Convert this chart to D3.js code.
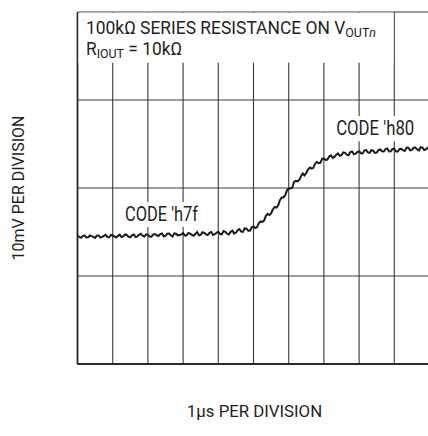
<!DOCTYPE html>
<html><head><meta charset="utf-8">
<script src="https://cdn.jsdelivr.net/npm/d3@7"></script>
<style>
html,body{margin:0;padding:0;background:#fff;}
svg text{font-family:"Roboto",sans-serif;fill:#231f20;}
</style></head>
<body>
<div id="chart"></div>
<script>
// time in µs (0.05 µs steps), voltage in mV (scope trace)
const timeUs = d3.range(0, 201).map(i => i / 20);
const traceMv = [
14.55,14.44,14.34,14.54,14.61,14.37,14.39,14.60,14.53,14.44,
14.33,14.59,14.61,14.36,14.44,14.56,14.68,14.43,14.41,14.66,
14.60,14.47,14.39,14.56,14.70,14.43,14.50,14.72,14.66,14.47,
14.39,14.62,14.72,14.43,14.50,14.68,14.80,14.57,14.49,14.74,
14.68,14.49,14.47,14.70,14.76,14.63,14.55,14.76,14.84,14.49,
14.59,14.80,14.83,14.63,14.49,14.84,14.80,14.61,14.65,14.74,
14.88,14.61,14.61,14.90,14.82,14.67,14.57,14.80,14.98,14.63,
14.68,14.97,14.91,14.74,14.65,14.91,15.00,14.67,14.75,14.92,
15.05,14.77,14.72,15.10,15.01,14.81,14.72,15.02,15.16,14.83,
14.91,15.20,15.33,15.04,15.01,15.41,15.38,15.15,15.15,15.53,
15.62,15.45,15.54,15.98,16.20,16.14,16.30,16.83,17.07,16.94,
17.11,17.57,17.84,17.77,18.00,18.62,18.93,18.93,19.18,19.71,
19.96,19.95,20.03,20.66,20.82,20.76,20.92,21.34,21.65,21.43,
21.70,22.10,22.33,22.20,22.29,22.76,22.97,22.82,22.86,23.33,
23.35,23.20,23.24,23.59,23.71,23.42,23.53,23.77,23.93,23.65,
23.72,24.05,24.00,23.79,23.72,24.09,24.15,23.83,23.91,24.09,
24.17,23.95,23.92,24.28,24.31,24.05,24.00,24.30,24.25,23.99,
24.02,24.31,24.38,24.18,24.15,24.42,24.49,24.15,24.18,24.43,
24.46,24.15,24.14,24.43,24.46,24.27,24.22,24.59,24.58,24.29,
24.34,24.57,24.59,24.39,24.27,24.64,24.59,24.32,24.38,24.59,
24.58];
const xDivisions = d3.range(0, 11);          // 1 µs per division
const yDivisions = [0, 10, 20, 30, 40];       // 10 mV per division
const titleLine1 = "100kΩ SERIES RESISTANCE ON V";
const titleSub1 = "OUT";
const titleSub1b = "n";
const titleLine2a = "R";
const titleSub2 = "IOUT";
const titleLine2b = " = 10kΩ";
const codeLabels = [
  {text: "CODE 'h7f", t: 1.35, v: 16.25, len: 73},
  {text: "CODE 'h80", t: 7.35, v: 26.0, len: 78}
];
const xLabel = "1µs PER DIVISION";
const yLabel = "10mV PER DIVISION";

const W = 428, H = 436;
const x = d3.scaleLinear().domain([0, 10]).range([77.5, 429.5]);
const y = d3.scaleLinear().domain([0, 40]).range([364, 12]);

const svg = d3.select("#chart").append("svg").attr("width", W).attr("height", H);

// grid
const grid = svg.append("g").attr("stroke", "#3a3a3a").attr("stroke-width", 1.1);
grid.selectAll("line.v").data(xDivisions).join("line")
  .attr("x1", d => x(d)).attr("x2", d => x(d)).attr("y1", y(40)).attr("y2", y(0));
grid.selectAll("line.h").data(yDivisions).join("line")
  .attr("x1", x(0)).attr("x2", x(10)).attr("y1", d => y(d)).attr("y2", d => y(d));
// frame
svg.append("line").attr("x1", x(0)).attr("x2", x(0)).attr("y1", y(40)).attr("y2", y(0))
  .attr("stroke", "#2a2a2a").attr("stroke-width", 1.8);
svg.append("line").attr("x1", x(0)).attr("x2", x(10)).attr("y1", y(0)).attr("y2", y(0))
  .attr("stroke", "#2a2a2a").attr("stroke-width", 2);

// title box
svg.append("rect").attr("x", x(0) + 1).attr("y", y(40) + 0.7)
  .attr("width", x(9) - x(0) - 1.8).attr("height", 50).attr("fill", "#fff");
const t1 = svg.append("text").attr("x", 86).attr("y", 33.5).attr("font-size", 17.5)
  .attr("textLength", 290).attr("lengthAdjust", "spacingAndGlyphs");
t1.append("tspan").text(titleLine1);
t1.append("tspan").attr("dy", 3).attr("font-size", 12.5).text(titleSub1);
t1.append("tspan").attr("font-size", 12.5).attr("font-style", "italic").text(titleSub1b);
const t2 = svg.append("text").attr("x", 86).attr("y", 55).attr("font-size", 17.5)
  .attr("textLength", 96).attr("lengthAdjust", "spacingAndGlyphs");
t2.append("tspan").text(titleLine2a);
t2.append("tspan").attr("dy", 3).attr("font-size", 12.5).text(titleSub2);
t2.append("tspan").attr("dy", -3).text(titleLine2b);

// code labels with white backing
codeLabels.forEach(c => {
  const g = svg.append("g");
  const tx = g.append("text").attr("x", x(c.t)).attr("y", y(c.v)).attr("font-size", 19.5)
    .attr("textLength", c.len).attr("lengthAdjust", "spacingAndGlyphs").text(c.text);
  const bb = tx.node().getBBox();
  g.insert("rect", "text").attr("x", bb.x - 4).attr("y", bb.y - 1)
    .attr("width", bb.width + 8).attr("height", bb.height + 2).attr("fill", "#fff");
});

// trace
const line = d3.line().x((d, i) => x(timeUs[i])).y(d => y(d));
svg.append("path").datum(traceMv).attr("d", line)
  .attr("fill", "none").attr("stroke", "#1a1a1a").attr("stroke-width", 2)
  .attr("stroke-linejoin", "miter");

// axis labels
svg.append("text").attr("x", 254.5).attr("y", 417).attr("text-anchor", "middle")
  .attr("font-size", 16.8).text(xLabel);
svg.append("text").attr("transform", "translate(24,188) rotate(-90)")
  .attr("text-anchor", "middle").attr("font-size", 16).text(yLabel);
</script>
</body></html>
